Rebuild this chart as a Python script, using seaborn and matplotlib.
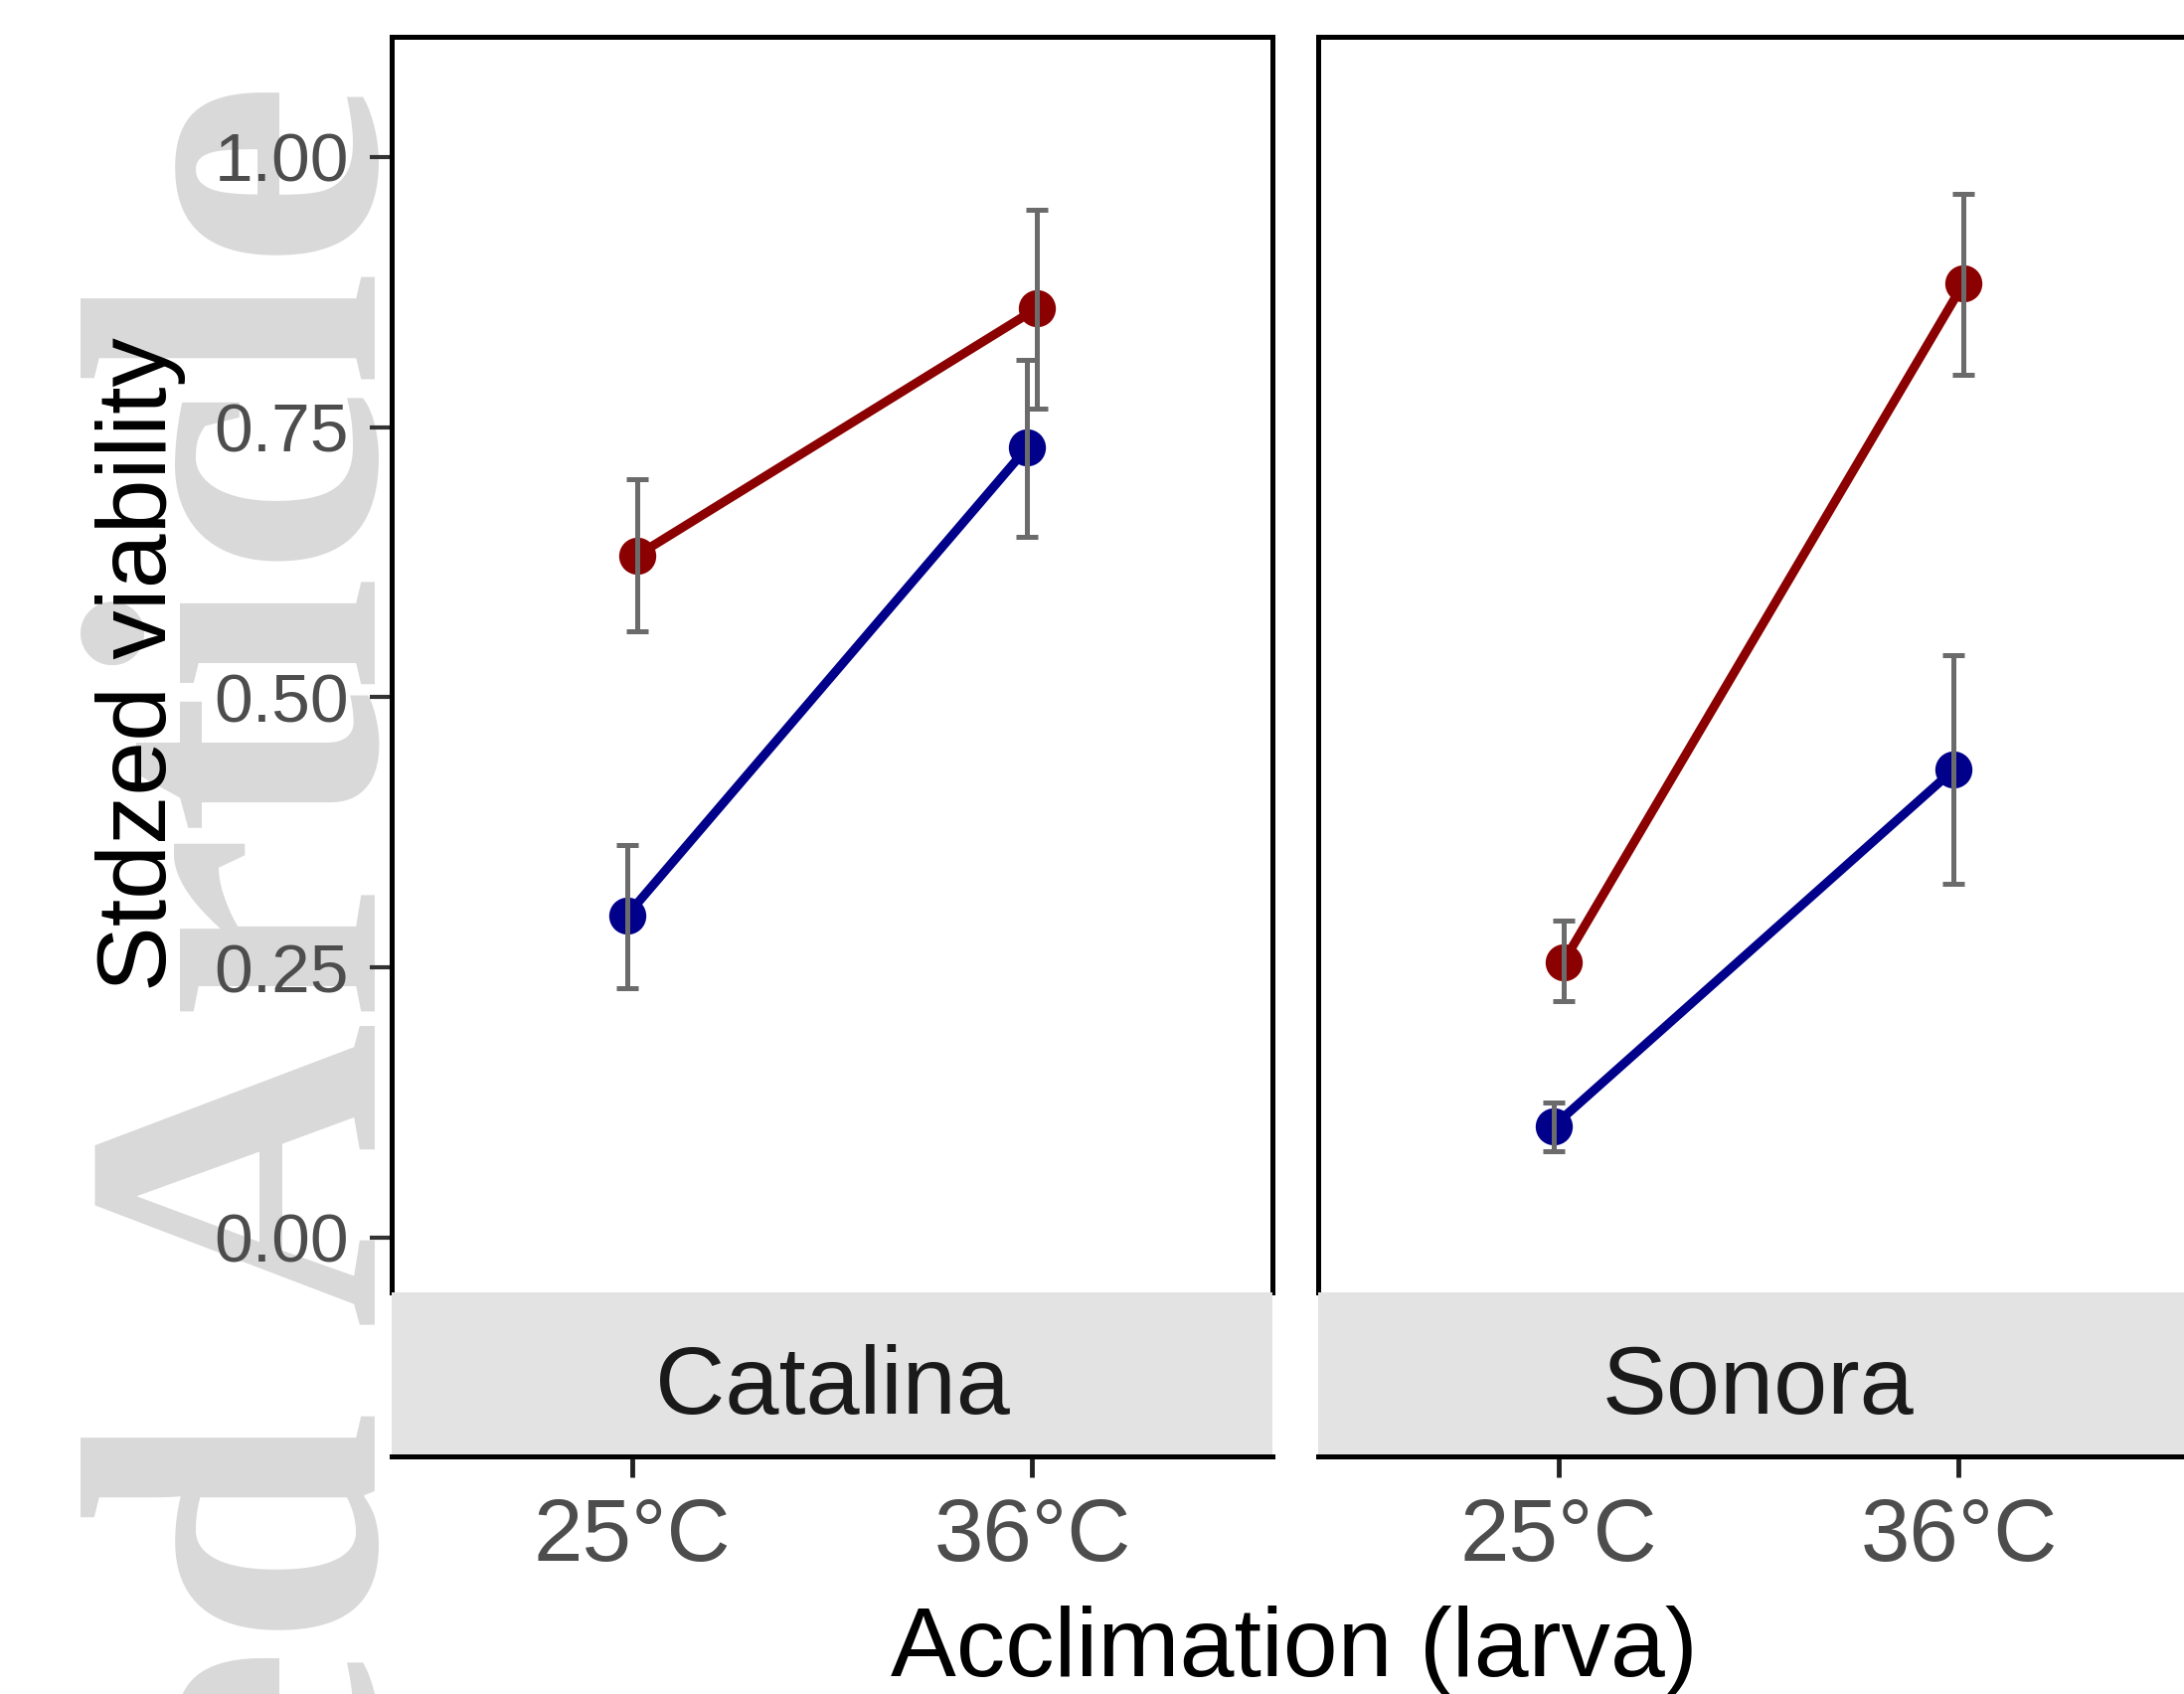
import numpy as np
import pandas as pd
import matplotlib
matplotlib.use("Agg")
import matplotlib.pyplot as plt
import seaborn as sns

# ---------------- data ----------------
populations = ["Catalina", "Sonora"]
acclimation = ["25°C", "36°C"]
parent_levels = ["25°C", "36°C"]          # blue, red
parent_colors = ["#00008B", "#8B0000"]

# mean standardized viability, [population][parent][acclimation]
cat_blue = [0.298, 0.731]
cat_red = [0.631, 0.860]
son_blue = [0.103, 0.433]
son_red = [0.255, 0.883]

cat_blue_lo = [0.231, 0.648]
cat_blue_hi = [0.363, 0.812]
cat_red_lo = [0.561, 0.767]
cat_red_hi = [0.702, 0.951]
son_blue_lo = [0.080, 0.327]
son_blue_hi = [0.125, 0.539]
son_red_lo = [0.219, 0.798]
son_red_hi = [0.293, 0.966]

y_ticks = [0.00, 0.25, 0.50, 0.75, 1.00]
y_ticklabels = ["0.00", "0.25", "0.50", "0.75", "1.00"]

means = {"Catalina": {"25°C": cat_blue, "36°C": cat_red},
         "Sonora": {"25°C": son_blue, "36°C": son_red}}
lows = {"Catalina": {"25°C": cat_blue_lo, "36°C": cat_red_lo},
        "Sonora": {"25°C": son_blue_lo, "36°C": son_red_lo}}
highs = {"Catalina": {"25°C": cat_blue_hi, "36°C": cat_red_hi},
         "Sonora": {"25°C": son_blue_hi, "36°C": son_red_hi}}

rows = []
for pop in populations:
    for par in parent_levels:
        for i, acc in enumerate(acclimation):
            rows.append(dict(Population=pop, Parent=par, Acclimation=acc,
                             viability=means[pop][par][i],
                             lo=lows[pop][par][i], hi=highs[pop][par][i]))
df = pd.DataFrame(rows)

# ---------------- style ----------------
sns.set_style("white")
plt.rcParams["font.family"] = ["Liberation Sans", "DejaVu Sans"]

W, H = 2197, 1704
fig = plt.figure(figsize=(W / 100, H / 100), dpi=100)
fig.patch.set_facecolor("white")

def fx(px):
    return px / W

def fy(py):
    return 1 - py / H

# watermark
fig.text(fx(378), fy(81), "Accepted Article", rotation=90, rotation_mode="anchor",
         ha="right", va="baseline", fontsize=307, fontweight="bold", color="#d9d9d9",
         family=["Liberation Serif", "DejaVu Serif"], zorder=-5)

panel_w = 886
panel_top, panel_bot = 37, 1300
strip_bot = 1465
lefts = [394, 1326]
xlim = (-0.6, 1.6)
ylim = (-0.0506, 1.111)

for k, pop in enumerate(populations):
    L = lefts[k]
    ax = fig.add_axes([fx(L), fy(panel_bot), panel_w / W, (panel_bot - panel_top) / H])
    sub = df[df.Population == pop]
    sns.pointplot(data=sub, x="Acclimation", y="viability", hue="Parent",
                  order=acclimation, hue_order=parent_levels,
                  palette=parent_colors, dodge=0.025, errorbar=None,
                  markers="o", markersize=22, linewidth=6.5,
                  legend=False, ax=ax)
    # error bars at the dodged positions of the plotted lines
    hue_lines = [ln for ln in ax.lines if len(ln.get_xdata()) == len(acclimation)]
    for ln, par in zip(hue_lines, parent_levels):
        xs = np.asarray(ln.get_xdata(), dtype=float)
        ys = np.asarray(means[pop][par])
        lo = np.asarray(lows[pop][par])
        hi = np.asarray(highs[pop][par])
        ax.errorbar(xs, ys, yerr=[ys - lo, hi - ys], fmt="none",
                    ecolor="#6b6b6b", elinewidth=3.6, capsize=8, capthick=3.6,
                    zorder=1)
        ln.set_zorder(3)
    for coll in ax.collections:
        coll.set_zorder(4)
    ax.set_xlim(*xlim)
    ax.set_ylim(*ylim)
    ax.set_xlabel("")
    ax.set_ylabel("")
    ax.set_xticks([])
    for s in ["left", "top", "right"]:
        ax.spines[s].set_visible(True)
        ax.spines[s].set_color("black")
        ax.spines[s].set_linewidth(3.6)
    ax.spines["bottom"].set_visible(False)
    if k == 0:
        ax.set_yticks(y_ticks)
        ax.set_yticklabels(y_ticklabels)
        ax.tick_params(axis="y", left=True, length=16, width=3, color="#333333",
                       pad=15, labelsize=50, labelcolor="#4d4d4d")
    else:
        ax.set_yticks([])
    ax.grid(False)

    # strip + x axis
    sx = fig.add_axes([fx(L), fy(strip_bot), panel_w / W, (strip_bot - panel_bot) / H])
    sx.set_facecolor("#e3e3e3")
    sx.set_xlim(*xlim)
    sx.set_ylim(0, 1)
    sx.set_yticks([])
    sx.set_xticks(range(len(acclimation)))
    sx.set_xticklabels(acclimation)
    sx.tick_params(axis="x", bottom=True, length=15, width=3.5, color="#222222",
                   pad=14, labelsize=64, labelcolor="#4d4d4d")
    for s in ["left", "top", "right"]:
        sx.spines[s].set_visible(False)
    sx.spines["bottom"].set_color("black")
    sx.spines["bottom"].set_linewidth(3.6)
    sx.text(0.5, 0.26, pop, transform=sx.transAxes, ha="center", va="baseline",
            fontsize=70, color="#1a1a1a")

fig.text(fx(167), fy(668), "Stdzed viability", rotation=90, rotation_mode="anchor",
         ha="center", va="baseline", fontsize=71, color="black")
fig.text(fx(1302), fy(1686), "Acclimation (larva)", ha="center", va="baseline",
         fontsize=71, color="black")

fig.savefig("out.png", dpi=100, facecolor="white")
